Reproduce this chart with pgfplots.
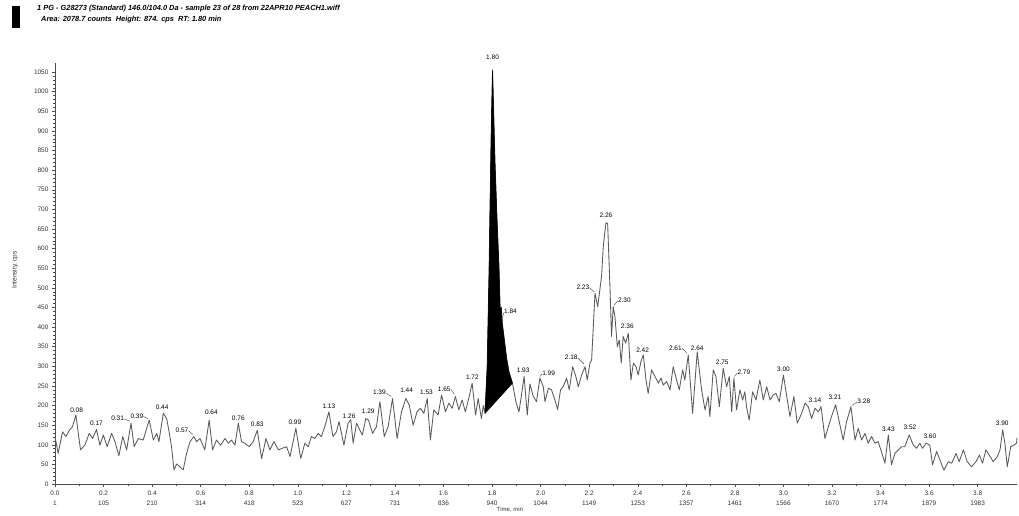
\documentclass[border=0pt]{standalone}
\usepackage{fontspec}
\setmainfont{Liberation Sans}
\usepackage{pgfplots}
\pgfplotsset{compat=1.18}
\newcommand{\lbfont}{\fontsize{6.5}{7}\selectfont}
\newcommand{\lab}[3]{\node[font=\lbfont,inner sep=0pt] at (axis cs:#1,#2) {#3};}
\newcommand{\ldr}[4]{\draw[black!75,line width=0.4pt] (axis cs:#1,#2) -- (axis cs:#3,#4);}
\begin{document}
\begin{tikzpicture}
\useasboundingbox (-55pt,-31pt) rectangle (964pt,484pt);
\begin{axis}[
  at={(0pt,0pt)}, anchor=south west,
  scale only axis, width=962pt, height=421pt,
  xmin=0, xmax=3.962, ymin=0, ymax=1073,
  axis x line*=bottom, axis y line*=left,
  axis line style={black!70, line width=0.5pt},
  tick align=outside,
  major tick length=3pt, minor tick length=1.5pt,
  tick style={black!70, line width=0.4pt},
  ytick={0,50,...,1050},
  minor y tick num=4,
  xtick={0,0.2,...,3.81},
  minor x tick num=1,
  xticklabels={{0.0\\1},{0.2\\105},{0.4\\210},{0.6\\314},{0.8\\418},{1.0\\523},{1.2\\627},{1.4\\731},{1.6\\836},{1.8\\940},{2.0\\1044},{2.2\\1149},{2.4\\1253},{2.6\\1357},{2.8\\1461},{3.0\\1566},{3.2\\1670},{3.4\\1774},{3.6\\1879},{3.8\\1983}},
  xticklabel style={align=center, font=\fontsize{6.5}{10}\selectfont, text=black!80},
  yticklabel style={font=\fontsize{6.5}{8}\selectfont, text=black!80},
  /pgf/number format/assume math mode=true,
  /pgf/number format/1000 sep={},
  scaled y ticks=false,
  clip=false,
]
\addplot[black!65, line width=0.85pt, line join=round] coordinates {
(0.000,121)(0.013,78)(0.031,133)(0.045,121)(0.059,137)(0.072,146)(0.086,176)(0.105,87)(0.123,99)(0.141,129)
(0.155,116)(0.171,139)(0.185,99)(0.199,125)(0.215,95)(0.233,129)(0.247,108)(0.263,72)(0.279,121)(0.295,87)
(0.313,155)(0.326,95)(0.343,116)(0.363,112)(0.388,163)(0.405,112)(0.419,129)(0.428,108)(0.446,180)(0.460,167)
(0.471,129)(0.480,95)(0.490,36)(0.501,51)(0.514,44)(0.528,36)(0.542,78)(0.556,108)(0.572,121)(0.583,108)
(0.597,116)(0.617,87)(0.635,163)(0.649,87)(0.665,112)(0.682,99)(0.700,116)(0.714,104)(0.727,112)(0.741,99)
(0.755,155)(0.768,108)(0.782,104)(0.800,95)(0.816,108)(0.833,137)(0.851,65)(0.869,116)(0.885,87)(0.902,108)
(0.920,87)(0.936,91)(0.954,95)(0.968,70)(0.992,142)(1.012,65)(1.029,104)(1.043,95)(1.056,121)(1.070,116)
(1.084,129)(1.097,121)(1.111,146)(1.128,184)(1.145,121)(1.159,133)(1.170,159)(1.190,99)(1.207,155)(1.218,164)
(1.228,104)(1.242,155)(1.255,138)(1.266,125)(1.280,167)(1.291,163)(1.308,129)(1.324,146)(1.338,210)(1.356,121)
(1.372,146)(1.390,218)(1.409,116)(1.427,184)(1.445,218)(1.459,201)(1.475,150)(1.491,184)(1.505,193)(1.519,180)
(1.533,218)(1.546,112)(1.560,189)(1.578,176)(1.592,227)(1.608,184)(1.622,206)(1.636,193)(1.649,223)(1.663,189)
(1.677,214)(1.690,184)(1.704,218)(1.718,257)(1.732,176)(1.743,218)(1.756,167)(1.764,200)(1.771,180)
(1.780,300)(1.788,550)(1.794,800)(1.798,940)(1.802,1055)(1.806,960)(1.812,820)(1.820,680)(1.828,560)(1.834,430)
(1.838,450)(1.842,410)(1.850,370)(1.860,320)(1.870,285)(1.884,257)
(1.898,210)(1.911,184)(1.932,274)(1.945,176)(1.956,255)(1.970,223)(1.983,210)(1.997,270)(2.011,248)(2.018,210)
(2.032,244)(2.045,240)(2.059,214)(2.070,190)(2.082,240)(2.093,248)(2.107,270)(2.118,240)(2.132,299)(2.145,274)
(2.155,248)(2.169,278)(2.183,299)(2.192,265)(2.203,308)(2.210,316)(2.224,486)(2.235,452)(2.244,495)(2.251,529)
(2.258,605)(2.269,666)(2.276,664)(2.286,495)(2.292,376)(2.299,452)(2.306,427)(2.316,350)(2.324,367)(2.332,308)
(2.340,376)(2.350,359)(2.361,384)(2.372,265)(2.382,308)(2.393,299)(2.402,278)(2.413,312)(2.423,329)(2.434,265)
(2.443,231)(2.457,291)(2.471,274)(2.485,257)(2.496,270)(2.505,252)(2.519,261)(2.533,240)(2.546,299)(2.560,265)
(2.571,240)(2.585,291)(2.594,265)(2.608,329)(2.626,180)(2.645,337)(2.663,240)(2.677,189)(2.690,223)(2.697,172)
(2.711,291)(2.722,274)(2.736,197)(2.752,295)(2.766,248)(2.777,274)(2.787,184)(2.796,270)(2.807,189)(2.821,240)
(2.832,214)(2.841,235)(2.848,197)(2.859,163)(2.873,235)(2.887,214)(2.903,265)(2.917,214)(2.931,248)(2.945,214)
(2.958,227)(2.969,231)(2.983,210)(3.000,278)(3.016,214)(3.027,172)(3.043,223)(3.057,155)(3.075,180)(3.089,206)
(3.102,197)(3.116,167)(3.130,193)(3.144,184)(3.155,197)(3.171,116)(3.185,146)(3.198,172)(3.215,202)(3.233,150)
(3.246,112)(3.260,159)(3.278,197)(3.295,112)(3.308,142)(3.322,112)(3.336,129)(3.349,104)(3.363,121)(3.377,104)
(3.390,108)(3.404,82)(3.418,53)(3.432,125)(3.445,49)(3.459,78)(3.473,87)(3.487,95)(3.500,95)(3.518,125)
(3.535,99)(3.548,91)(3.562,104)(3.573,91)(3.587,104)(3.603,99)(3.614,49)(3.631,83)(3.644,62)(3.661,35)
(3.679,57)(3.693,53)(3.711,78)(3.724,57)(3.741,87)(3.757,57)(3.775,44)(3.793,57)(3.807,74)(3.820,53)
(3.834,87)(3.851,70)(3.864,57)(3.881,70)(3.892,87)(3.903,138)(3.912,104)(3.922,44)(3.936,95)(3.949,99)
(3.960,104)(3.962,118)
};
\addplot[fill=black, draw=black, line width=0.5pt] coordinates {
(1.771,180)(1.780,300)(1.788,550)(1.794,800)(1.798,940)(1.802,1055)(1.806,960)(1.812,820)(1.820,680)(1.828,560)
(1.834,430)(1.838,450)(1.842,410)(1.850,370)(1.860,320)(1.870,285)(1.884,257)
} -- cycle;
\lab{0.089}{189}{0.08}
\lab{0.171}{156}{0.17}
\lab{0.258}{167}{0.31}\ldr{0.285}{166}{0.308}{160}
\lab{0.337}{173}{0.39}\ldr{0.364}{172}{0.384}{166}
\lab{0.441}{195}{0.44}
\lab{0.523}{136}{0.57}\ldr{0.550}{136}{0.568}{126}
\lab{0.644}{184}{0.64}
\lab{0.755}{167}{0.76}
\lab{0.833}{152}{0.83}
\lab{0.988}{157}{0.99}
\lab{1.128}{199}{1.13}
\lab{1.211}{173}{1.26}
\lab{1.290}{186}{1.29}
\lab{1.336}{234}{1.39}\ldr{1.363}{232}{1.385}{223}
\lab{1.448}{240}{1.44}
\lab{1.530}{235}{1.53}
\lab{1.603}{241}{1.65}\ldr{1.630}{240}{1.645}{229}
\lab{1.719}{272}{1.72}
\lab{1.802}{1087}{1.80}
\lab{1.876}{439}{1.84}\ldr{1.849}{437}{1.840}{420}
\lab{1.928}{289}{1.93}
\lab{2.033}{282}{1.99}\ldr{2.006}{281}{1.998}{274}
\lab{2.126}{322}{2.18}\ldr{2.153}{321}{2.179}{305}
\lab{2.174}{501}{2.23}\ldr{2.201}{500}{2.220}{490}
\lab{2.269}{686}{2.26}
\lab{2.345}{469}{2.30}\ldr{2.318}{467}{2.302}{456}
\lab{2.357}{403}{2.36}
\lab{2.420}{340}{2.42}
\lab{2.555}{347}{2.61}\ldr{2.582}{346}{2.604}{333}
\lab{2.645}{346}{2.64}
\lab{2.748}{310}{2.75}
\lab{2.837}{284}{2.79}\ldr{2.810}{283}{2.798}{274}
\lab{3.000}{292}{3.00}
\lab{3.130}{214}{3.14}
\lab{3.212}{221}{3.21}
\lab{3.331}{210}{3.28}\ldr{3.304}{209}{3.281}{200}
\lab{3.432}{140}{3.43}
\lab{3.521}{144}{3.52}
\lab{3.603}{121}{3.60}
\lab{3.901}{155}{3.90}
\end{axis}
\fill[black] (-43pt,456pt) rectangle (-35pt,478pt);
\node[anchor=west, font=\fontsize{7.4}{9}\selectfont\bfseries\itshape, inner sep=0pt] at (-18pt,475pt) {1 PG - G28273 (Standard) 146.0/104.0 Da - sample 23 of 28 from 22APR10 PEACH1.wiff};
\node[anchor=west, font=\fontsize{7.4}{9}\selectfont\bfseries\itshape, inner sep=0pt] at (-14pt,464pt) {Area: 2078.7 counts\ \ Height: 874. cps\ \ RT: 1.80 min};
\node[rotate=90, font=\fontsize{6.5}{8}\selectfont, text=black!80] at (-40pt,214pt) {Intensity, cps};
\node[font=\fontsize{6}{7}\selectfont, text=black!80] at (455pt,-26pt) {Time, min};
\end{tikzpicture}
\end{document}
